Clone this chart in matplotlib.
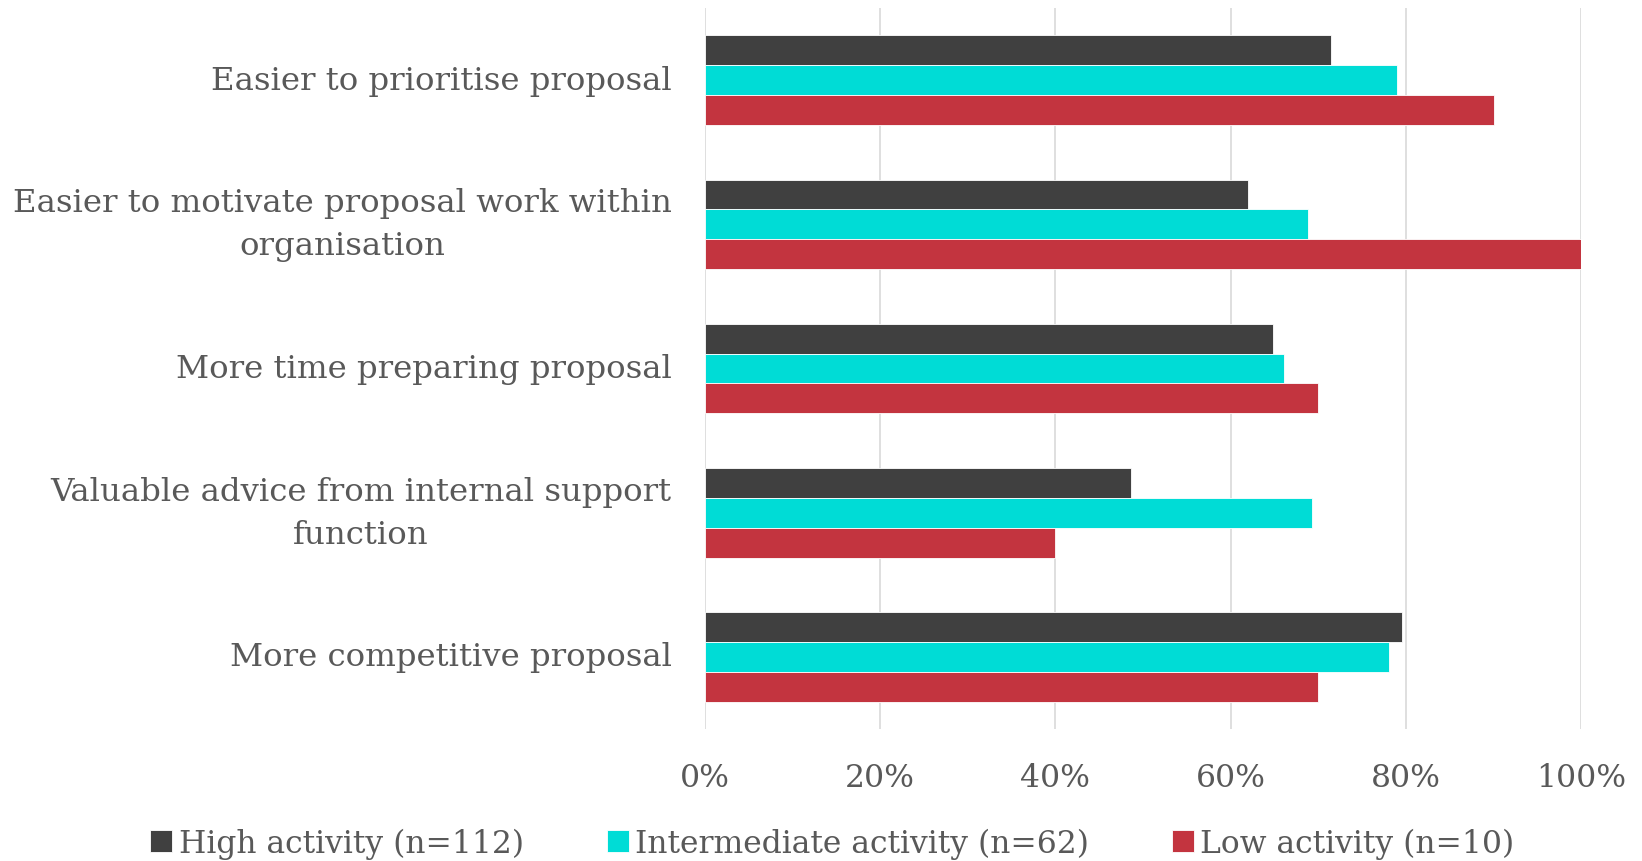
import matplotlib
matplotlib.use("Agg")
import matplotlib.pyplot as plt
from matplotlib.ticker import PercentFormatter
import numpy as np

categories = [
    "Easier to prioritise proposal",
    "Easier to motivate proposal work within\norganisation",
    "More time preparing proposal",
    "Valuable advice from internal support\nfunction",
    "More competitive proposal",
]
series_names = [
    "High activity (n=112)",
    "Intermediate activity (n=62)",
    "Low activity (n=10)",
]
high_activity = [71.4, 62.0, 64.8, 48.6, 79.5]
intermediate_activity = [79.0, 68.8, 66.1, 69.3, 78.1]
low_activity = [90, 100, 70, 40, 70]
x_ticks = [0, 20, 40, 60, 80, 100]

colors = ["#404040", "#00DCD6", "#C3343F"]
text_color = "#595959"
font = "DejaVu Serif"

fig = plt.figure(figsize=(16.42, 8.62), dpi=100)
ax = fig.add_axes([0.4292, 0.1531, 0.5338, 0.8364])

bar_h = 0.207
y = np.arange(len(categories))
for i, (vals, name, c) in enumerate(zip([high_activity, intermediate_activity, low_activity], series_names, colors)):
    ax.barh(y + (i - 1) * bar_h, vals, height=bar_h, color=c, label=name,
            edgecolor="white", linewidth=0.6, zorder=3)

ax.set_xlim(0, 100)
ax.set_ylim(len(categories) - 0.5, -0.5)
ax.set_xticks(x_ticks)
ax.xaxis.set_major_formatter(PercentFormatter(decimals=0))
ax.grid(axis="x", color="#D9D9D9", linewidth=1.2, zorder=0)
for s in ax.spines.values():
    s.set_visible(False)
ax.tick_params(axis="both", length=0, labelcolor=text_color)
ax.tick_params(axis="x", pad=24)
for lbl in ax.get_xticklabels():
    lbl.set_fontfamily(font)
    lbl.set_fontsize(22.6)

ax.set_yticks(y)
ax.set_yticklabels([])
for yi, cat in zip(y, categories):
    ax.annotate(cat, xy=(0, yi), xycoords=("axes fraction", "data"),
                xytext=(-33, 0), textcoords="offset pixels",
                ha="right", va="center", multialignment="center",
                fontsize=23.3, family=font, color=text_color, linespacing=1.5)

leg = fig.legend(loc="lower center", bbox_to_anchor=(0.507, -0.03), ncol=3,
                 frameon=False, prop={"family": font, "size": 22.6},
                 handlelength=0.7, handleheight=0.7, handletextpad=0.2,
                 columnspacing=2.65, labelcolor=text_color)

fig.savefig("out.png", dpi=100, facecolor="white")
